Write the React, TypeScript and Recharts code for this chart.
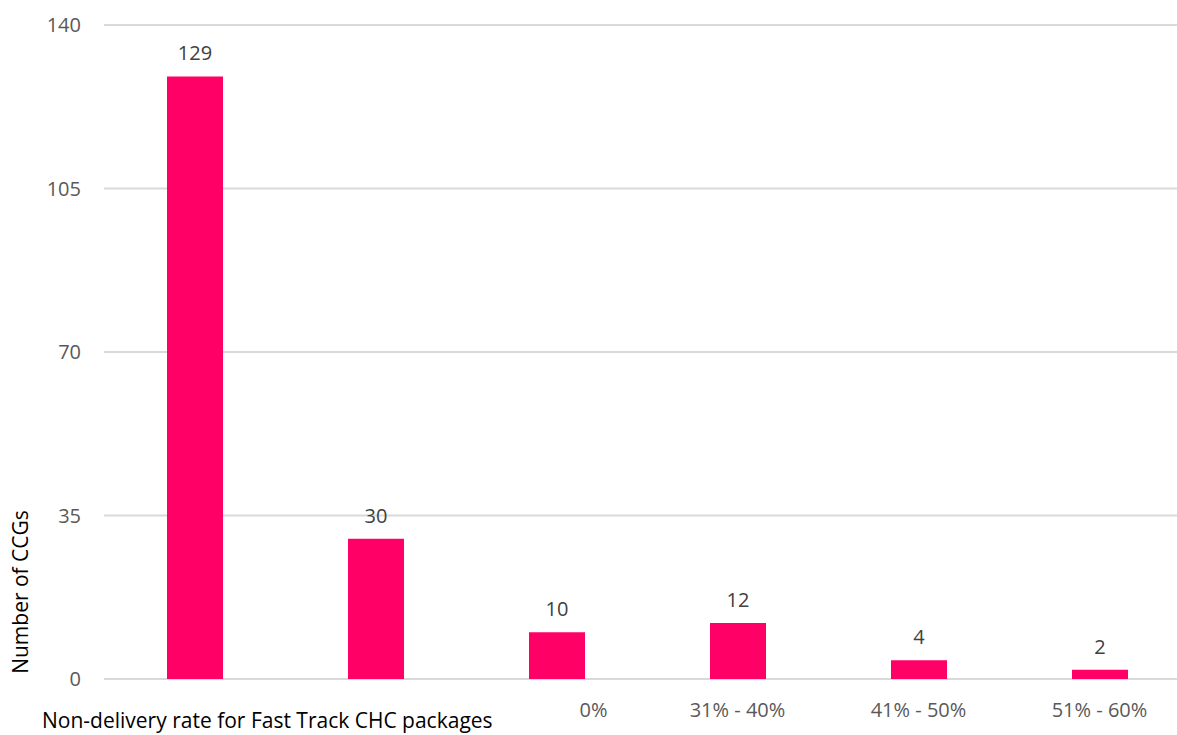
import { Bar, BarChart, CartesianGrid, LabelList, XAxis, YAxis } from 'recharts'

// Number of CCGs by non-delivery rate band for Fast Track CHC packages
const bandLabels = ['', '', '0%', '31% - 40%', '41% - 50%', '51% - 60%']
const ccgCounts = [129, 30, 10, 12, 4, 2]
const yTicks = [0, 35, 70, 105, 140]

const rows = bandLabels.map((label, i) => ({
  key: `b${i}`,
  label,
  count: ccgCounts[i],
}))

const FONT = '"Open Sans", "Noto Sans", sans-serif'
const PINK = '#ff0066'

function BandTick(props: any) {
  const { x, y, payload } = props
  const label = rows.find((r) => r.key === payload.value)?.label ?? ''
  // the lone "0%" label sits a little right of its bar
  const dx = label === '0%' ? 37 : 0
  return (
    <text
      x={x + dx}
      y={y}
      dy="0.71em"
      textAnchor="middle"
      fill="#595959"
      fontSize={20}
      fontFamily={FONT}
    >
      {label}
    </text>
  )
}

export default function App() {
  return (
    <div
      style={{
        position: 'absolute',
        left: 0,
        top: 0,
        width: 1177,
        height: 735,
        overflow: 'hidden',
        background: '#fff',
      }}
    >
      <BarChart
        width={1200}
        height={735}
        data={rows}
        margin={{ top: 25, right: 10, left: 0, bottom: 0 }}
        barSize={56}
      >
        <CartesianGrid vertical={false} stroke="#d9d9d9" strokeWidth={2} />
        <XAxis
          dataKey="key"
          height={56}
          axisLine={false}
          tickLine={false}
          tickSize={0}
          tickMargin={24}
          interval={0}
          tick={<BandTick />}
        />
        <YAxis
          width={104}
          domain={[0, 140]}
          ticks={yTicks}
          axisLine={false}
          tickLine={false}
          tickSize={0}
          tickMargin={23}
          tick={{ fill: '#595959', fontSize: 20, fontFamily: FONT }}
        />
        <Bar dataKey="count" fill={PINK} isAnimationActive={false}>
          <LabelList
            dataKey="count"
            position="top"
            offset={16}
            fill="#404040"
            fontSize={20}
            fontFamily={FONT}
          />
        </Bar>
        <text
          x={20}
          y={592}
          transform="rotate(-90 20 592)"
          textAnchor="middle"
          dominantBaseline="central"
          fontSize={21}
          fontFamily={FONT}
          fill="#000"
        >
          Number of CCGs
        </text>
        <text x={42} y={728} fontSize={21} fontFamily={FONT} fill="#000">
          Non-delivery rate for Fast Track CHC packages
        </text>
      </BarChart>
    </div>
  )
}
